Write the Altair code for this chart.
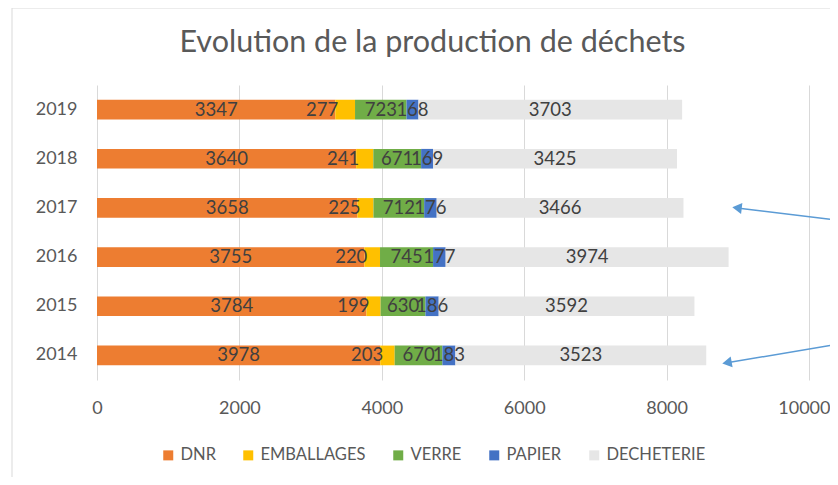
import altair as alt
import pandas as pd

# ---- data ----
years = ["2014", "2015", "2016", "2017", "2018", "2019"]
categories = ["DNR", "EMBALLAGES", "VERRE", "PAPIER", "DECHETERIE"]
dnr = [3978, 3784, 3755, 3658, 3640, 3347]
emballages = [203, 199, 220, 225, 241, 277]
verre = [670, 630, 745, 712, 671, 723]
papier = [183, 186, 177, 176, 169, 168]
decheterie = [3523, 3592, 3974, 3466, 3425, 3703]
colors = ["#ED7D31", "#FFC000", "#70AD47", "#4472C4", "#E6E6E6"]
x_ticks = [0, 2000, 4000, 6000, 8000, 10000]
x_max = 10295

# annotation arrows (x in data units, y in row units from bottom: 0..6)
arrow_tail_x = [10295, 10295]
arrow_tail_y = [3.27, 0.70]
arrow_tip_x = [8989, 8848]
arrow_tip_y = [3.50, 0.35]
arrow_angle = [277, 260]

series = [dnr, emballages, verre, papier, decheterie]
rows = []
for ci, (cat, vals) in enumerate(zip(categories, series)):
    for y, v in zip(years, vals):
        rows.append({"year": y, "category": cat, "value": v, "order": ci})
df = pd.DataFrame(rows)

arrows = pd.DataFrame({"x": arrow_tail_x, "y": arrow_tail_y,
                       "x2": arrow_tip_x, "y2": arrow_tip_y, "angle": arrow_angle})

W, H = 733, 295
FONT = "Lato"
GREY = "#595959"
LBL = "#404040"

xscale = alt.Scale(domain=[0, x_max], nice=False, zero=True)
yscale = alt.Scale(paddingInner=0.6, paddingOuter=0.3)
yaxis = alt.Axis(labelPadding=20, orient="left")
# the last tick label would run past the page edge: pin it flush to the right edge
xaxis = alt.Axis(values=x_ticks, format="d", labelPadding=19, orient="bottom",
                 labelAlign=alt.ExprRef("datum.value == 10000 ? 'right' : 'center'"),
                 labelOffset=alt.ExprRef("datum.value == 10000 ? 21 : 0"))

base = alt.Chart(df).transform_stack(
    stack="value", groupby=["year"], sort=[alt.SortField("order")], as_=["x0", "x1"]
).transform_calculate(mid="(datum.x0 + datum.x1) / 2")

Y = alt.Y("year:N", sort="descending", scale=yscale, title=None, axis=yaxis)

bars = base.mark_bar().encode(
    x=alt.X("x0:Q", scale=xscale, title=None, axis=xaxis),
    x2="x1:Q",
    y=Y,
    color=alt.Color("category:N", scale=alt.Scale(domain=categories, range=colors),
                    legend=alt.Legend(title=None, orient="none", legendX=63, legendY=362,
                                      direction="horizontal", symbolType="square",
                                      symbolSize=100, symbolStrokeWidth=0,
                                      labelFontSize=16.5, labelColor=GREY, labelFont=FONT,
                                      columnPadding=24, labelOffset=4)),
)

labels_mid = base.transform_filter("datum.category != 'EMBALLAGES'").mark_text(
    color=LBL, fontSize=18.5, font=FONT).encode(
    x=alt.X("mid:Q", scale=xscale, title=None, axis=xaxis),
    y=Y,
    text=alt.Text("value:Q", format="d"),
)

# EMBALLAGES labels sit just before their segment, right-aligned on its start
labels_emb = base.transform_filter("datum.category == 'EMBALLAGES'").mark_text(
    color=LBL, fontSize=18.5, font=FONT, align="right", dx=3).encode(
    x=alt.X("x0:Q", scale=xscale, title=None, axis=xaxis),
    y=Y,
    text=alt.Text("value:Q", format="d"),
)

main = alt.layer(bars, labels_mid, labels_emb)

ascale = alt.Scale(domain=[0, 6], nice=False, zero=False)
arrow_lines = alt.Chart(arrows).mark_rule(color="#5B9BD5", strokeWidth=1.5).encode(
    x=alt.X("x:Q", scale=xscale, title=None, axis=xaxis),
    x2="x2:Q",
    y=alt.Y("y:Q", scale=ascale, axis=None),
    y2="y2:Q",
)
arrow_heads = alt.Chart(arrows).mark_point(shape="triangle-up", filled=True, opacity=1,
                                           color="#5B9BD5", size=120).encode(
    x=alt.X("x2:Q", scale=xscale, title=None, axis=xaxis),
    y=alt.Y("y2:Q", scale=ascale, axis=None),
    angle=alt.Angle("angle:Q", scale=None),
)

frame_df = pd.DataFrame({"k": [0]})
frame_left = alt.Chart(frame_df).mark_rule(color="#D9D9D9", strokeWidth=1).encode(
    x=alt.value(-85), y=alt.value(-77), y2=alt.value(H + 97))
frame_top = alt.Chart(frame_df).mark_rule(color="#D9D9D9", strokeWidth=1).encode(
    x=alt.value(-85), x2=alt.value(W), y=alt.value(-77))

deco = alt.layer(arrow_lines, arrow_heads, frame_left, frame_top)

chart = alt.layer(main, deco).resolve_scale(y="independent").properties(
    width=W, height=H,
    autosize=alt.AutoSizeParams(type="none"),
    padding={"left": 89, "top": 77, "right": 0, "bottom": 97},
    title=alt.TitleParams("Evolution de la production de déchets", fontSize=30.5, font=FONT,
                          color=GREY, fontWeight="normal", anchor="middle", dx=-31,
                          offset=-51),
).configure_view(stroke=None).configure_axis(
    labelFont=FONT, labelFontSize=18, labelColor=GREY,
    domain=False, ticks=False, grid=False,
).configure_axisX(grid=True, gridColor="#D9D9D9", gridWidth=1)

chart.save("out.html", embed_options={"renderer": "svg", "actions": False})
